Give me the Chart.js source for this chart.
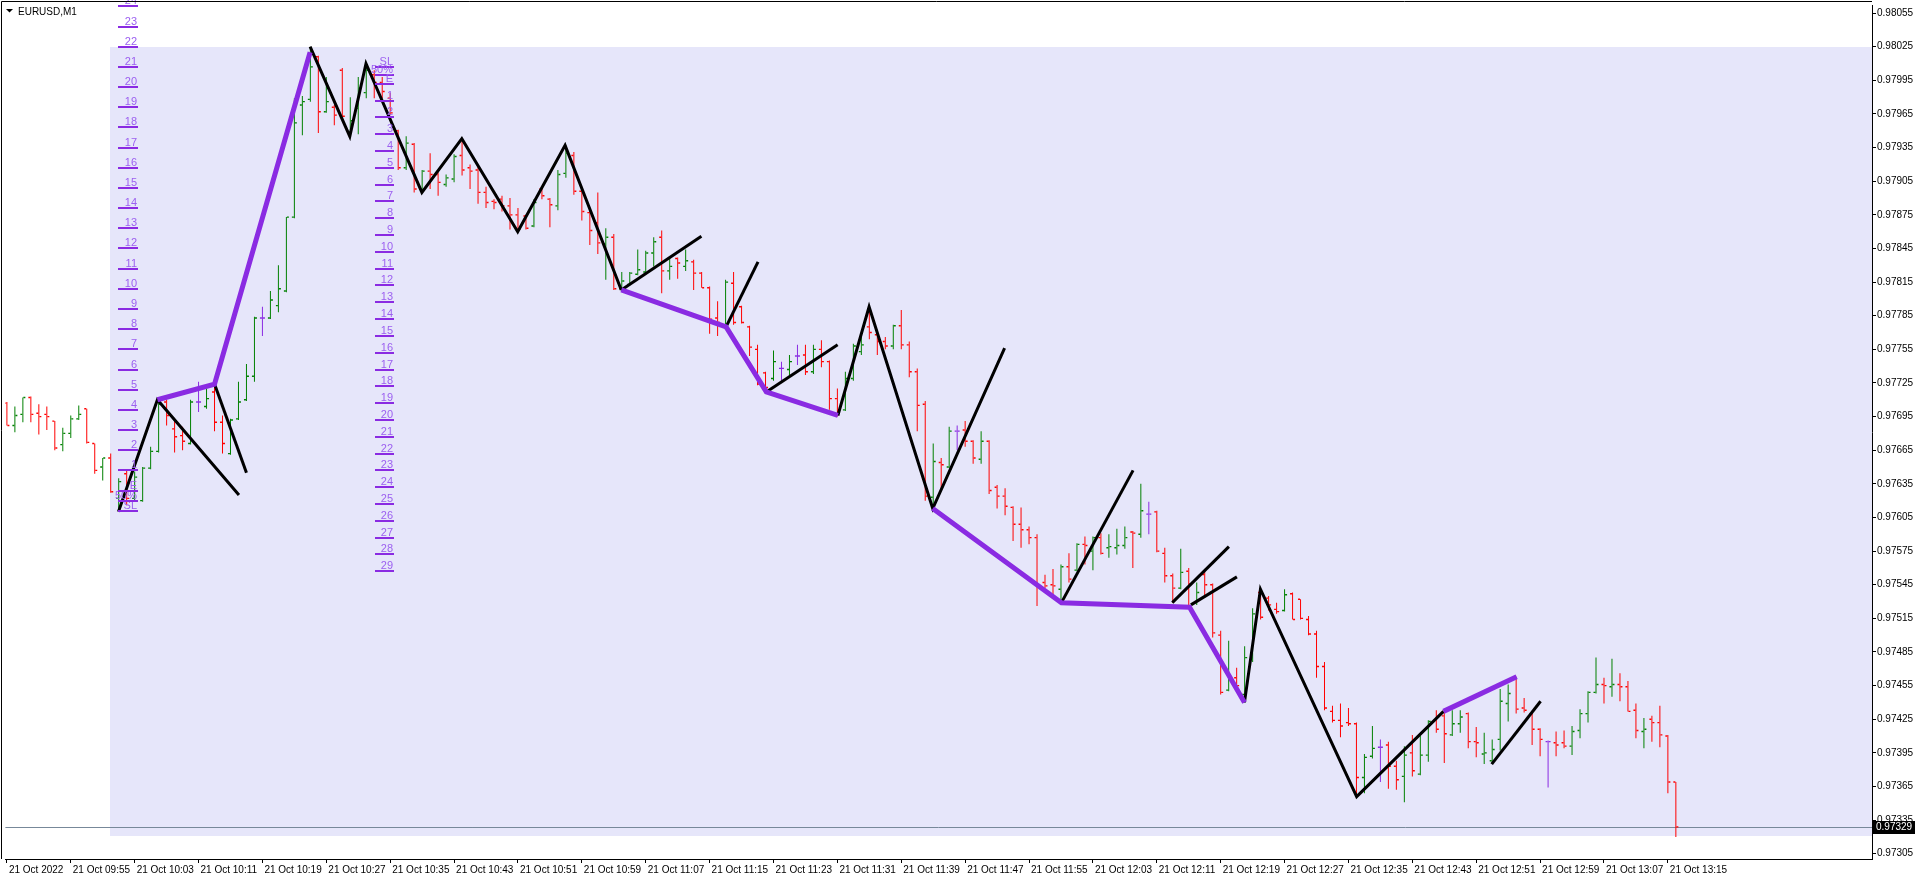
<!DOCTYPE html>
<html lang="en">
<head>
<meta charset="UTF-8">
<title>EURUSD,M1</title>
<script src="https://cdn.jsdelivr.net/npm/chart.js@4.4.0/dist/chart.umd.min.js"></script>
<style>
html, body { margin: 0; padding: 0; background: #fff; overflow: hidden; }
#wrap { width: 1918px; height: 880px; }
</style>
</head>
<body>
<div id="wrap"><canvas id="chart" width="1918" height="880"></canvas></div>
<script>
// M1 bars, one per minute from 21 Oct 09:47 (bar 0) to 13:16 (bar 209)
const opens = [
0.97707,0.97687,0.97697,0.97712,0.97698,0.97697,0.97691,0.97670,0.97680,0.97693,
0.97702,0.97671,0.97650,0.97658,0.97622,0.97644,0.97622,0.97620,0.97649,0.97664,
0.97708,0.97684,0.97678,0.97671,0.97708,0.97704,0.97717,0.97690,0.97662,0.97693,
0.97710,0.97731,0.97783,0.97783,0.97794,0.97807,0.97873,0.97973,0.97978,0.98016,
0.97967,0.97971,0.98004,0.97948,0.97970,0.97984,0.98000,0.97993,0.97979,0.97950,
0.97917,0.97938,0.97898,0.97914,0.97911,0.97902,0.97907,0.97928,0.97917,0.97915,
0.97895,0.97887,0.97889,0.97883,0.97875,0.97874,0.97865,0.97898,0.97889,0.97883,
0.97912,0.97928,0.97896,0.97877,0.97868,0.97849,0.97855,0.97809,0.97813,0.97822,
0.97824,0.97841,0.97855,0.97825,0.97836,0.97829,0.97833,0.97823,0.97810,0.97783,
0.97777,0.97814,0.97793,0.97775,0.97755,0.97734,0.97729,0.97738,0.97737,0.97749,
0.97750,0.97735,0.97755,0.97744,0.97711,0.97701,0.97729,0.97753,0.97775,0.97768,
0.97762,0.97758,0.97776,0.97759,0.97735,0.97706,0.97623,0.97654,0.97650,0.97682,
0.97683,0.97673,0.97657,0.97673,0.97632,0.97624,0.97614,0.97599,0.97594,0.97587,
0.97547,0.97545,0.97541,0.97561,0.97558,0.97581,0.97575,0.97587,0.97578,0.97578,
0.97580,0.97592,0.97590,0.97608,0.97610,0.97573,0.97553,0.97542,0.97557,0.97529,
0.97554,0.97545,0.97500,0.97451,0.97462,0.97447,0.97480,0.97538,0.97533,0.97523,
0.97522,0.97537,0.97532,0.97514,0.97501,0.97472,0.97432,0.97424,0.97422,0.97421,
0.97373,0.97392,0.97400,0.97402,0.97383,0.97374,0.97395,0.97376,0.97393,0.97424,
0.97428,0.97411,0.97421,0.97430,0.97405,0.97394,0.97388,0.97407,0.97439,0.97462,
0.97435,0.97430,0.97416,0.97405,0.97404,0.97404,0.97401,0.97415,0.97430,0.97449,
0.97456,0.97454,0.97456,0.97454,0.97433,0.97414,0.97425,0.97422,0.97410,0.97369
];
const highs = [
0.97708,0.97704,0.97712,0.97713,0.97706,0.97704,0.97691,0.97685,0.97696,0.97705,
0.97702,0.97671,0.97658,0.97662,0.97640,0.97647,0.97646,0.97650,0.97668,0.97710,
0.97710,0.97693,0.97686,0.97710,0.97726,0.97723,0.97724,0.97696,0.97693,0.97726,
0.97742,0.97784,0.97793,0.97807,0.97830,0.97873,0.97979,0.97981,0.98024,0.98017,
0.97998,0.97973,0.98006,0.97980,0.97998,0.98010,0.98004,0.97998,0.97984,0.97951,
0.97945,0.97939,0.97915,0.97930,0.97913,0.97911,0.97929,0.97943,0.97920,0.97918,
0.97900,0.97889,0.97892,0.97890,0.97881,0.97875,0.97889,0.97899,0.97890,0.97915,
0.97937,0.97931,0.97900,0.97880,0.97895,0.97863,0.97858,0.97824,0.97824,0.97844,
0.97843,0.97855,0.97861,0.97837,0.97837,0.97844,0.97835,0.97824,0.97811,0.97798,
0.97817,0.97824,0.97794,0.97776,0.97759,0.97735,0.97754,0.97744,0.97750,0.97759,
0.97759,0.97759,0.97763,0.97745,0.97720,0.97735,0.97760,0.97769,0.97794,0.97770,
0.97766,0.97777,0.97790,0.97762,0.97738,0.97709,0.97671,0.97658,0.97686,0.97687,
0.97691,0.97674,0.97682,0.97674,0.97634,0.97631,0.97615,0.97614,0.97597,0.97590,
0.97554,0.97559,0.97563,0.97573,0.97582,0.97588,0.97588,0.97591,0.97590,0.97595,
0.97597,0.97593,0.97635,0.97619,0.97611,0.97578,0.97555,0.97577,0.97560,0.97547,
0.97557,0.97546,0.97504,0.97495,0.97471,0.97490,0.97524,0.97541,0.97535,0.97529,
0.97541,0.97538,0.97532,0.97517,0.97504,0.97476,0.97437,0.97439,0.97435,0.97422,
0.97394,0.97419,0.97407,0.97405,0.97388,0.97401,0.97411,0.97410,0.97424,0.97433,
0.97432,0.97433,0.97433,0.97431,0.97418,0.97413,0.97407,0.97452,0.97456,0.97463,
0.97444,0.97431,0.97417,0.97406,0.97414,0.97415,0.97419,0.97434,0.97450,0.97480,
0.97462,0.97479,0.97466,0.97459,0.97439,0.97426,0.97428,0.97437,0.97411,0.97369
];
const lows = [
0.97687,0.97681,0.97690,0.97690,0.97679,0.97683,0.97665,0.97664,0.97676,0.97692,
0.97671,0.97644,0.97638,0.97627,0.97610,0.97616,0.97619,0.97619,0.97648,0.97663,
0.97687,0.97663,0.97665,0.97670,0.97699,0.97702,0.97682,0.97662,0.97661,0.97692,
0.97709,0.97726,0.97767,0.97782,0.97788,0.97806,0.97872,0.97946,0.97976,0.97948,
0.97966,0.97955,0.97960,0.97945,0.97947,0.97979,0.97979,0.97979,0.97964,0.97915,
0.97915,0.97895,0.97895,0.97898,0.97892,0.97900,0.97904,0.97910,0.97898,0.97885,
0.97881,0.97880,0.97878,0.97862,0.97860,0.97862,0.97864,0.97889,0.97864,0.97879,
0.97908,0.97893,0.97870,0.97848,0.97840,0.97817,0.97808,0.97807,0.97812,0.97821,
0.97822,0.97829,0.97805,0.97817,0.97818,0.97825,0.97808,0.97810,0.97769,0.97767,
0.97775,0.97777,0.97778,0.97749,0.97723,0.97717,0.97727,0.97727,0.97732,0.97741,
0.97732,0.97733,0.97739,0.97701,0.97695,0.97700,0.97727,0.97750,0.97764,0.97750,
0.97755,0.97755,0.97755,0.97730,0.97682,0.97620,0.97613,0.97631,0.97649,0.97665,
0.97668,0.97653,0.97653,0.97626,0.97613,0.97607,0.97584,0.97578,0.97581,0.97526,
0.97542,0.97534,0.97529,0.97547,0.97557,0.97563,0.97558,0.97572,0.97569,0.97572,
0.97577,0.97560,0.97587,0.97590,0.97574,0.97547,0.97529,0.97541,0.97525,0.97527,
0.97534,0.97498,0.97447,0.97450,0.97453,0.97440,0.97476,0.97514,0.97522,0.97519,
0.97521,0.97514,0.97514,0.97500,0.97462,0.97433,0.97422,0.97409,0.97419,0.97356,
0.97359,0.97390,0.97369,0.97363,0.97362,0.97351,0.97374,0.97375,0.97387,0.97413,
0.97386,0.97410,0.97413,0.97399,0.97391,0.97385,0.97385,0.97397,0.97423,0.97430,
0.97431,0.97402,0.97392,0.97364,0.97392,0.97399,0.97393,0.97408,0.97422,0.97448,
0.97439,0.97445,0.97441,0.97432,0.97408,0.97399,0.97405,0.97400,0.97359,0.97320
];
const closes = [
0.97687,0.97696,0.97712,0.97697,0.97695,0.97695,0.97667,0.97680,0.97693,0.97697,
0.97672,0.97647,0.97658,0.97628,0.97637,0.97622,0.97641,0.97649,0.97664,0.97706,
0.97696,0.97677,0.97673,0.97708,0.97708,0.97711,0.97690,0.97671,0.97692,0.97708,
0.97731,0.97783,0.97783,0.97799,0.97809,0.97873,0.97957,0.97976,0.98007,0.97967,
0.97976,0.97964,0.97963,0.97959,0.97988,0.98004,0.97993,0.97985,0.97966,0.97917,
0.97939,0.97898,0.97914,0.97911,0.97904,0.97908,0.97927,0.97915,0.97914,0.97895,
0.97886,0.97886,0.97883,0.97875,0.97862,0.97863,0.97886,0.97892,0.97884,0.97911,
0.97930,0.97896,0.97878,0.97861,0.97850,0.97855,0.97809,0.97816,0.97823,0.97826,
0.97841,0.97851,0.97825,0.97829,0.97832,0.97834,0.97823,0.97810,0.97782,0.97779,
0.97815,0.97779,0.97779,0.97757,0.97724,0.97721,0.97744,0.97738,0.97744,0.97749,
0.97735,0.97755,0.97744,0.97711,0.97699,0.97729,0.97758,0.97759,0.97770,0.97762,
0.97758,0.97776,0.97759,0.97735,0.97705,0.97624,0.97655,0.97652,0.97682,0.97682,
0.97673,0.97658,0.97673,0.97629,0.97624,0.97615,0.97599,0.97594,0.97587,0.97544,
0.97544,0.97544,0.97561,0.97550,0.97581,0.97580,0.97587,0.97573,0.97579,0.97580,
0.97587,0.97591,0.97611,0.97608,0.97575,0.97553,0.97542,0.97556,0.97546,0.97538,
0.97545,0.97502,0.97449,0.97460,0.97455,0.97480,0.97519,0.97516,0.97527,0.97521,
0.97536,0.97514,0.97515,0.97501,0.97472,0.97435,0.97424,0.97419,0.97421,0.97373,
0.97391,0.97399,0.97400,0.97383,0.97371,0.97393,0.97379,0.97393,0.97423,0.97416,
0.97412,0.97421,0.97427,0.97405,0.97404,0.97395,0.97398,0.97441,0.97448,0.97434,
0.97433,0.97416,0.97407,0.97405,0.97402,0.97401,0.97414,0.97430,0.97449,0.97456,
0.97455,0.97456,0.97454,0.97432,0.97415,0.97416,0.97422,0.97411,0.97369,0.97329
];

// time axis: a label every 8 bars
const timeTickBars = [0,8,16,24,32,40,48,56,64,72,80,88,96,104,112,120,128,136,144,152,160,168,176,184,192,200,208];
const timeTickLabels = ["21 Oct 2022","21 Oct 09:55","21 Oct 10:03","21 Oct 10:11","21 Oct 10:19","21 Oct 10:27",
  "21 Oct 10:35","21 Oct 10:43","21 Oct 10:51","21 Oct 10:59","21 Oct 11:07","21 Oct 11:15","21 Oct 11:23",
  "21 Oct 11:31","21 Oct 11:39","21 Oct 11:47","21 Oct 11:55","21 Oct 12:03","21 Oct 12:11","21 Oct 12:19",
  "21 Oct 12:27","21 Oct 12:35","21 Oct 12:43","21 Oct 12:51","21 Oct 12:59","21 Oct 13:07","21 Oct 13:15"];
const priceTicks = [0.98055,0.98025,0.97995,0.97965,0.97935,0.97905,0.97875,0.97845,0.97815,0.97785,
  0.97755,0.97725,0.97695,0.97665,0.97635,0.97605,0.97575,0.97545,0.97515,0.97485,0.97455,0.97425,
  0.97395,0.97365,0.97335,0.97305];
const lastPrice = 0.97329;

// zigzag objects: [bar, price]
const blackLines = [
  [[13.97,0.97610],[18.85,0.97710],[29.06,0.97625]],
  [[26.0,0.97724],[30.0,0.97645]],
  [[37.97,0.98025],[42.94,0.97945],[44.97,0.98010],[51.97,0.97895],[56.97,0.97943],[63.97,0.97860],[69.9,0.97937],[76.94,0.97808]],
  [[76.94,0.97808],[86.97,0.97856]],
  [[90.06,0.97775],[94.06,0.97833]],
  [[95.1,0.97717],[104.03,0.97759]],
  [[104.06,0.97696],[107.97,0.97793],[115.94,0.97613],[124.94,0.97756]],
  [[132.06,0.97529],[141.03,0.97647]],
  [[145.94,0.97529],[153.03,0.97579]],
  [[148.27,0.97527],[154.03,0.97552]],
  [[154.98,0.97440],[156.98,0.97541],[169.03,0.97356],[179.9,0.97432]],
  [[185.94,0.97385],[192.06,0.97441]]
];
const purpleLines = [
  [[18.85,0.97710],[26.0,0.97724],[37.97,0.98020]],
  [[76.94,0.97808],[90.06,0.97775],[95.1,0.97717],[104.06,0.97696]],
  [[115.94,0.97613],[132.06,0.97529],[148.1,0.97525],[154.98,0.97440]],
  [[179.9,0.97432],[189.06,0.97463]]
];

// level markers (two sets)
const fibLeftLabels = ["SL","50%","E","1","2","3","4","5","6","7","8","9","10","11","12","13","14","15","16","17","18","19","20","21","22","23","24"];
const fibLeftPrices = [0.97611,0.97620,0.97629,0.97647,0.97665,0.97683,0.97701,0.97719,0.97737,0.97755,0.97773,
  0.97791,0.97809,0.97827,0.97845,0.97863,0.97881,0.97899,0.97917,0.97935,0.97953,0.97971,0.97989,0.98007,
  0.98025,0.98043,0.98061];
const fibLeftBars = [13.94, 16.44];
const fibRightLabels = ["SL","50%","E","1","2","3","4","5","6","7","8","9","10","11","12","13","14","15","16","17",
  "18","19","20","21","22","23","24","25","26","27","28","29"];
const fibRightPrices = [0.98007,0.979995,0.97992,0.97977,0.97962,0.97947,0.97932,0.97917,0.97902,0.97887,0.97872,
  0.97857,0.97842,0.97827,0.97812,0.97797,0.97782,0.97767,0.97752,0.97737,0.97722,0.97707,0.97692,0.97677,
  0.97662,0.97647,0.97632,0.97617,0.97602,0.97587,0.97572,0.97557];
const fibRightBars = [46.06, 48.44];

// shaded rectangle
const shadeFromBar = 12.94;
const shadeTop = 0.98025;
const shadeBottom = 0.97321;

const GREEN = '#008000', RED = '#ff0000', DOJI = '#8a2be2';
const barColors = opens.map((o, i) => closes[i] > o ? GREEN : (closes[i] < o ? RED : DOJI));
const FONT = 'Liberation Sans';

const datasets = [];
purpleLines.forEach(pts => datasets.push({
  type: 'line', data: pts.map(p => ({ x: p[0], y: p[1] })),
  borderColor: '#8a2be2', borderWidth: 5, pointRadius: 0, tension: 0, fill: false, order: 1
}));
blackLines.forEach(pts => datasets.push({
  type: 'line', data: pts.map(p => ({ x: p[0], y: p[1] })),
  borderColor: '#000', borderWidth: 3, pointRadius: 0, tension: 0, fill: false, order: 2
}));
// open / close ticks
datasets.push({
  type: 'line', showLine: false, data: opens.map((v, i) => ({ x: i - 0.1875, y: v })),
  pointStyle: 'line', pointRadius: 1, pointBorderWidth: 1.4, pointBorderColor: barColors, pointHitRadius: 0, order: 5
});
datasets.push({
  type: 'line', showLine: false, data: closes.map((v, i) => ({ x: i + 0.1875, y: v })),
  pointStyle: 'line', pointRadius: 1, pointBorderWidth: 1.4, pointBorderColor: barColors, pointHitRadius: 0, order: 5
});
// high-low
datasets.push({
  type: 'bar', data: highs.map((h, i) => ({ x: i, y: [lows[i], h] })),
  backgroundColor: barColors, borderWidth: 0, barThickness: 1, inflateAmount: 0, grouped: false, order: 6
});

function drawFib(ctx, xs, ys, bars, labels, prices) {
  const xa = Math.round(xs.getPixelForValue(bars[0]));
  const xb = Math.round(xs.getPixelForValue(bars[1]));
  ctx.font = '11px ' + FONT;
  ctx.textAlign = 'right';
  ctx.textBaseline = 'alphabetic';
  prices.forEach((p, k) => {
    const py = Math.round(ys.getPixelForValue(p));
    ctx.fillStyle = '#8a2be2';
    ctx.fillRect(xa, py - 1, xb - xa, 2);
    ctx.fillStyle = '#9c60f0';
    ctx.fillText(labels[k], xb - 1, py - 2);
  });
}

const mt4Plugin = {
  id: 'mt4',
  beforeDatasetsDraw(chart) {
    const { ctx, chartArea: a, scales: { x, y } } = chart;
    ctx.save();
    const x0 = Math.round(x.getPixelForValue(shadeFromBar));
    const y0 = Math.round(y.getPixelForValue(shadeTop));
    const y1 = Math.round(y.getPixelForValue(shadeBottom));
    ctx.fillStyle = '#e6e6fa';
    ctx.fillRect(x0, y0, a.right - x0, y1 - y0);
    const yp = Math.round(y.getPixelForValue(lastPrice)) + 0.5;
    ctx.strokeStyle = '#778899';
    ctx.lineWidth = 1;
    ctx.beginPath();
    ctx.moveTo(a.left, yp);
    ctx.lineTo(a.right, yp);
    ctx.stroke();
    ctx.restore();
  },
  afterDatasetsDraw(chart) {
    const { ctx, scales: { x, y } } = chart;
    ctx.save();
    drawFib(ctx, x, y, fibLeftBars, fibLeftLabels, fibLeftPrices);
    drawFib(ctx, x, y, fibRightBars, fibRightLabels, fibRightPrices);
    ctx.restore();
  },
  afterDraw(chart) {
    const { ctx, chartArea: a, scales: { y } } = chart;
    ctx.save();
    // frame left / top
    ctx.strokeStyle = '#000';
    ctx.lineWidth = 1;
    ctx.beginPath();
    ctx.moveTo(1.5, a.bottom);
    ctx.lineTo(1.5, 1.5);
    ctx.lineTo(a.right, 1.5);
    ctx.stroke();
    // symbol label
    ctx.fillStyle = '#000';
    ctx.beginPath();
    ctx.moveTo(6, 9);
    ctx.lineTo(13, 9);
    ctx.lineTo(9.5, 12.5);
    ctx.closePath();
    ctx.fill();
    ctx.font = '10px ' + FONT;
    ctx.textAlign = 'left';
    ctx.textBaseline = 'alphabetic';
    ctx.fillText('EURUSD,M1', 18, 14.5);
    // last price box
    const yp = Math.round(y.getPixelForValue(lastPrice));
    ctx.fillRect(a.right + 1, yp - 6, 42, 13);
    ctx.fillStyle = '#fff';
    ctx.textBaseline = 'middle';
    ctx.fillText(lastPrice.toFixed(5), a.right + 4, yp + 0.5);
    ctx.restore();
  }
};

new Chart(document.getElementById('chart'), {
  type: 'line',
  data: { datasets },
  options: {
    responsive: false,
    animation: false,
    events: [],
    layout: { padding: { left: 2, top: 2, right: 0, bottom: 0 } },
    plugins: { legend: { display: false }, tooltip: { enabled: false } },
    scales: {
      x: {
        type: 'linear', min: -0.1875, max: 233.5625, bounds: 'data', offset: false,
        grid: { drawOnChartArea: false, drawTicks: true, tickLength: 4, color: '#000', offset: false },
        border: { color: '#000' },
        ticks: {
          autoSkip: false, maxRotation: 0, minRotation: 0, align: 'start', labelOffset: 2, padding: 1,
          color: '#000', font: { family: FONT, size: 10 },
          callback: (v, idx) => timeTickLabels[idx]
        },
        afterBuildTicks: s => { s.ticks = timeTickBars.map(v => ({ value: v })); },
        afterFit: s => { s.height = 21; s.paddingLeft = 0; s.paddingRight = 0; s.paddingTop = 0; s.paddingBottom = 0; }
      },
      y: {
        type: 'linear', position: 'right', min: 0.973003, max: 0.9806185, bounds: 'data',
        grid: { drawOnChartArea: false, drawTicks: true, tickLength: 4, color: '#000' },
        border: { color: '#000' },
        ticks: {
          padding: 1, color: '#000', font: { family: FONT, size: 10 },
          callback: v => v.toFixed(5)
        },
        afterBuildTicks: s => { s.ticks = priceTicks.map(v => ({ value: v })); },
        afterFit: s => { s.width = 46; s.paddingLeft = 0; s.paddingRight = 0; s.paddingTop = 0; s.paddingBottom = 0; }
      }
    }
  },
  plugins: [mt4Plugin]
});
</script>
</body>
</html>
